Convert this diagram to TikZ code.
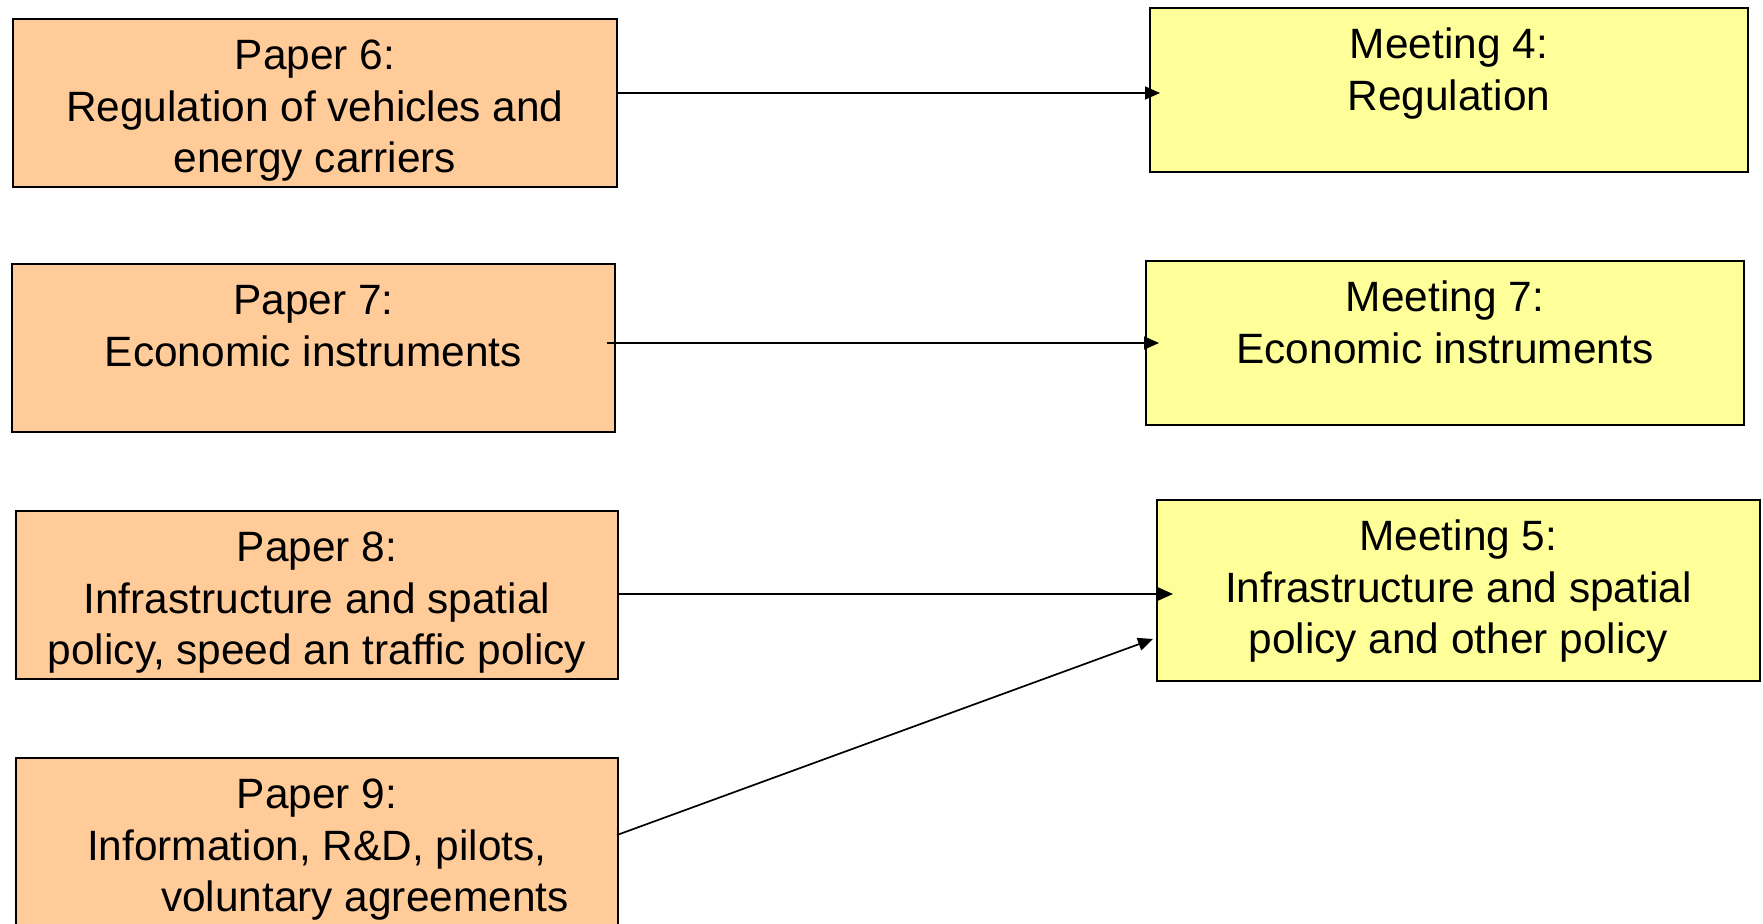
\documentclass[tikz,border=0pt]{standalone}
\usepackage{fontspec}
\setmainfont{Liberation Sans}
\usetikzlibrary{arrows.meta}
\definecolor{peach}{HTML}{FFCC99}
\definecolor{paleyellow}{HTML}{FFFF99}
\newcommand\boxtext[3]{\parbox[c][#1][t]{#2}{\centering\rule{0pt}{51pt}#3}}
\tikzset{
  card/.style={draw=black, line width=1.8pt, inner sep=0pt, anchor=north west,
    font=\fontsize{42.4}{51.5}\selectfont},
  paper/.style={card, fill=peach},
  meeting/.style={card, fill=paleyellow},
  link/.style={draw=black, line width=1.7pt, -{Triangle[length=15pt,width=13pt]}}
}
\begin{document}
\begin{tikzpicture}[x=1pt, y=-1pt]
\useasboundingbox (0,0) rectangle (1763,923);
\node[paper] (p6) at (12,18) {\boxtext{168pt}{604pt}{Paper 6:\\Regulation of vehicles and\\energy carriers}};
\node[paper] (p7) at (11,263) {\boxtext{168pt}{603pt}{Paper 7:\\Economic instruments}};
\node[paper] (p8) at (15,510) {\boxtext{168pt}{602pt}{Paper 8:\\Infrastructure and spatial\\policy, speed an traffic policy}};
\node[paper] (p9) at (15,757) {\boxtext{210pt}{602pt}{Paper 9:\\Information, R\&D, pilots,\\\hspace*{96pt}voluntary agreements}};
\node[meeting] (m4) at (1149,7) {\boxtext{164pt}{598pt}{Meeting 4:\\Regulation}};
\node[meeting] (m7) at (1145,260) {\boxtext{164pt}{598pt}{Meeting 7:\\Economic instruments}};
\node[meeting] (m5) at (1156,499) {\boxtext{181pt}{603pt}{Meeting 5:\\Infrastructure and spatial\\policy and other policy}};
\coordinate (t4) at (1160,93);
\coordinate (s7) at (607,343);
\coordinate (t7) at (1159,343);
\coordinate (t5a) at (1173,594);
\coordinate (s9) at (617,835);
\coordinate (t5b) at (1153,639);
\draw[link] (p6.east |- t4) -- (t4);
\draw[link] (s7) -- (t7);
\draw[link] (p8.east |- t5a) -- (t5a);
\draw[link] (s9) -- (t5b);
\end{tikzpicture}
\end{document}
